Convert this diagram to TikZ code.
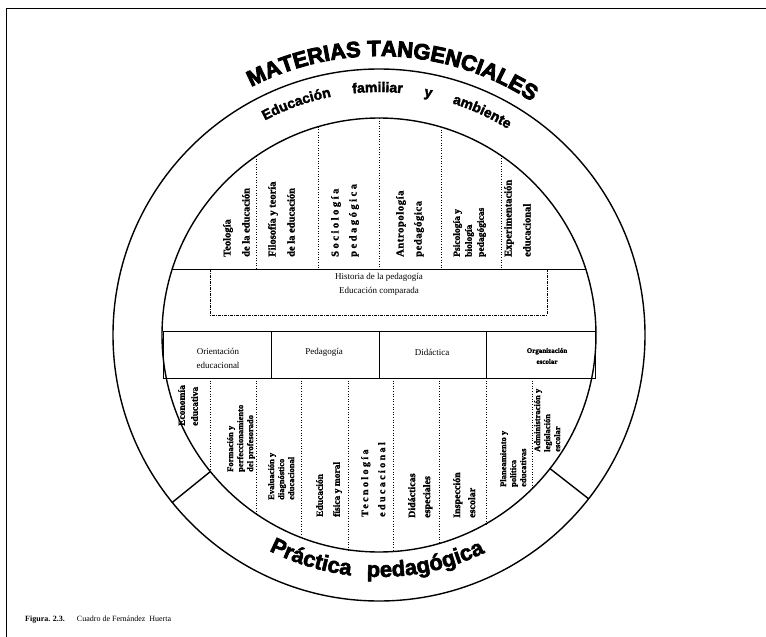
\documentclass[tikz,border=0pt]{standalone}
\usepackage{fontspec}
\usetikzlibrary{decorations.text}
\setmainfont{Liberation Serif}
\newfontfamily\sansfam[BoldFeatures={FakeBold=4}]{Liberation Sans}
\newfontfamily\sansmid[BoldFeatures={FakeBold=2.5}]{Liberation Sans}
\newfontfamily\serifbold[BoldFeatures={FakeBold=1.5}]{Liberation Serif}
\newfontfamily\serifspaced[LetterSpace=24,BoldFeatures={FakeBold=1.5}]{Liberation Serif}
\newfontfamily\serifwide[LetterSpace=6,BoldFeatures={FakeBold=1.5}]{Liberation Serif}
\newcommand\arcbig{\sansfam\bfseries\fontsize{22}{22}\selectfont}
\newcommand\arclow{\sansmid\bfseries\fontsize{22}{22}\selectfont}
\newcommand\arcmid{\sansmid\bfseries\fontsize{14}{14}\selectfont}
\newcommand\labfont{\serifbold\bfseries\fontsize{10.5}{19}\selectfont}
\newcommand\labspfont{\serifspaced\bfseries\fontsize{10.5}{18}\selectfont}
\newcommand\labsmall{\serifbold\bfseries\fontsize{8.5}{10}\selectfont}
\newcommand\bandfont{\fontsize{9}{14}\selectfont}
\begin{document}
\begin{tikzpicture}[x=1pt,y=1pt,
  ring/.style={line width=1.4pt},
  rule/.style={line width=1pt},
  sep/.style={line width=0.6pt, dotted},
  boxline/.style={line width=0.6pt, dash pattern=on 3pt off 1.2pt on 0.6pt off 1.2pt},
  vlab/.style={rotate=90, anchor=north west, inner sep=0pt, align=left, font=\labfont},
  vlabsp/.style={vlab, font=\labspfont},
  vlabsm/.style={vlab, font=\labsmall},
  bandlab/.style={align=center, inner sep=0pt, font=\bandfont}]
\useasboundingbox (0,0) rectangle (766,-637);

% page frame
\draw[line width=1pt] (6,-637) -- (6,-8) -- (766,-8);

% the two rings
\coordinate (C) at (379,-335);
\draw[ring] (C) circle[radius=266];
\draw[ring] (C) circle[radius=217];

% radial ticks closing the lower ring segment
\path (C) ++(219:217) coordinate (tla) (C) ++(219:266) coordinate (tlb);
\path (C) ++(322:217) coordinate (tra) (C) ++(322:266) coordinate (trb);
\draw[ring] (tla) -- (tlb);
\draw[ring] (tra) -- (trb);

% ring texts
\path (C) ++(117:279) coordinate (mt0);
\path[decorate, decoration={text along path, text align={center},
   text={|\arcbig|MATERIAS TANGENCIALES}}]
   (mt0) arc[start angle=117, end angle=57, radius=279];
\path (C) ++(118:243) coordinate (ef0);
\path[decorate, decoration={text along path, text align={fit to path stretching spaces},
   text={|\arcmid|Educación familiar y ambiente}}]
   (ef0) arc[start angle=118, end angle=58, radius=243];
\path (C) ++(243:242) coordinate (pp0);
\path[decorate, decoration={text along path, text align={fit to path stretching spaces},
   text={|\arclow|Práctica pedagógica}}]
   (pp0) arc[start angle=243, end angle=296, radius=242];

% horizontal rules and the central band
\draw[rule] (172.3,-269) coordinate (hl) -- (585.7,-269) coordinate (hr);
\draw[rule] (163,-331) rectangle (595,-378);
\foreach \x in {271,379,486} \draw[rule] (\x,-331) -- (\x,-378);

% dotted column separators, upper half
\foreach \x/\y in {256/156.2, 318/126.8, 379/118, 441/127, 501/155.5}
  \draw[sep] (\x,-\y) -- (\x,-269);
% dotted column separators, lower half
\foreach \x/\y in {210/471.1, 256/513.8, 301/537.5, 348/549.8, 393/551.5, 439/543.5, 486/523.8, 532/488.9}
  \draw[sep] (\x,-378) -- (\x,-\y);

% dash-dot frame of the historical subjects
\draw[boxline] (210,-269) -- (210,-315) -- (547,-315) -- (547,-269);
\node[bandlab] (hist) at (379,-277) {Historia de la pedagogía};
\node[bandlab] (comp) at (379,-291) {Educación comparada};

% band labels
\node[bandlab] (ori) at (218,-358) {Orientación\\educacional};
\node[bandlab] (ped) at (324,-352) {Pedagogía};
\node[bandlab] (did) at (432,-352) {Didáctica};
\node[bandlab, font=\serifbold\bfseries\fontsize{7}{11}\selectfont] (org) at (547,-356) {Organización\\escolar};

% upper column labels
\node[vlab] (u1) at (223,-257) {Teología\\de la educación};
\node[vlab] (u2) at (268,-257) {Filosofía y teoría\\de la educación};
\node[vlabsp] (u3) at (331,-257) {Sociología\\pedagógica};
\node[vlab, font=\serifwide\bfseries\fontsize{10.5}{18}\selectfont] (u4) at (396,-257) {Antropología\\pedagógica};
\node[vlab, font=\serifbold\bfseries\fontsize{9.5}{12}\selectfont] (u5) at (453,-257) {Psicología y\\biología\\pedagógicas};
\node[vlab] (u6) at (504,-257) {Experimentación\\educacional};

% lower column labels
\node[vlab, font=\serifbold\bfseries\fontsize{9.5}{13}\selectfont] (l1) at (178,-426) {Economía\\educativa};
\node[vlabsm] (l2) at (227,-472) {Formación y\\perfeccionamiento\\del profesorado};
\node[vlabsm] (l3) at (268,-500) {Evaluación y\\diagnóstico\\educacional};
\node[vlab, font=\serifbold\bfseries\fontsize{9.5}{17}\selectfont] (l4) at (316,-517) {Educación\\física y moral};
\node[vlab, font=\serifspaced\bfseries\fontsize{10}{17}\selectfont] (l5) at (361,-517) {Tecnología\\educacional};
\node[vlab, font=\serifbold\bfseries\fontsize{10}{15}\selectfont] (l6) at (408,-518) {Didácticas\\especiales};
\node[vlab, font=\serifbold\bfseries\fontsize{10}{15}\selectfont] (l7) at (453,-518) {Inspección\\escolar};
\node[vlabsm] (l8) at (500,-487) {Planeamiento y\\política\\educativas};
\node[vlabsm] (l9) at (534,-452) {Administración y\\legislación\\escolar};

% caption
\node[anchor=west, inner sep=0pt, font=\fontsize{8}{9}\selectfont] (cap) at (25,-620)
  {\textbf{Figura. 2.3.}\hspace{12pt}Cuadro de Fernández\ \ Huerta};
\end{tikzpicture}
\end{document}
